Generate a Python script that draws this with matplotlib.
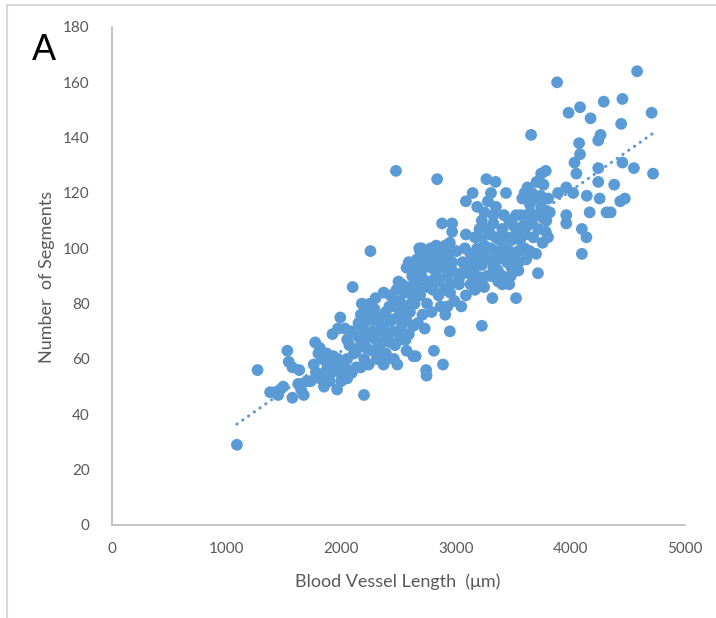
import numpy as np
import matplotlib
matplotlib.use("Agg")
import matplotlib.pyplot as plt
from matplotlib.lines import Line2D

# Blood vessel length (µm) and number of segments per sample
blood_vessel_length = [
    1090, 1270, 1380, 1420, 1450, 1470, 1494, 1530, 1542, 1574, 1634, 1574, 1673, 1625,
    1773, 1813, 1801, 1964, 2199, 1992, 2100, 2255, 2478, 2837, 2880, 2968, 2681, 2829,
    3227, 2888, 2741, 2745, 2809, 2948, 2490, 3088, 3147, 3187, 3267, 3347, 3307, 3438,
    3327, 3227, 3088, 3526, 3319, 3717, 3657, 3884, 3984, 4084, 4176, 4291, 4454, 4582,
    4709, 4443, 4263, 4243, 4076, 4084, 4036, 4052, 4243, 4454, 4554, 4721, 4382, 4243,
    4143, 4255, 4168, 4315, 4351, 4435, 4475, 4100, 4140, 4100, 3964, 3964, 3892, 3964,
    4024, 3785, 3745, 3705, 3626, 3665, 3765, 3805, 3745, 3646, 3614, 3566, 3665, 3785,
    3805, 3757, 3677, 3646, 3614, 3546, 3546, 3446, 3406, 3406, 3367,
    1733, 1813, 1853, 1893, 1833, 1873, 1932, 1972, 1913, 1992, 2052, 2092, 2131, 2171,
    2052, 2111, 2071, 2052, 2092, 2032, 1972, 1924, 2151, 2171, 2211, 2251, 2231, 2271,
    2211, 2171, 2271, 2331, 2311, 2370, 2390, 2430, 2450, 2370, 2331, 2390, 2291, 2370,
    2430, 2482, 2510, 2470, 2530, 2570, 2490, 2530, 2590, 2510, 2470, 2550, 2570, 2650,
    2570, 2590, 2630, 2670, 2709, 2689, 2749, 2789, 2829, 2849, 2769, 2729, 2689, 2749,
    2789, 2709, 2669, 2729, 2630, 2610, 2590, 2650, 2530,
    2829, 2869, 2908, 2948, 2968, 3008, 2968, 2968, 2928, 3028, 3048, 2948, 3028, 2988,
    2928, 2869, 2908, 3048, 3088, 3128, 3108, 3147, 3128, 3187, 3227, 3167, 3227, 3207,
    3287, 3327, 3347, 3386, 3406, 3307, 3287, 3227, 3187, 3207, 3167, 3247, 3307, 3327,
    3367, 3406, 3466, 3486, 3526, 3506, 3466, 3526, 3586, 3606, 3486, 3386, 3466,
    2562, 2630,
    1780, 1850, 1900, 1950, 2000, 2020, 2060, 1880, 1760, 1700, 1650,
    2150, 2190, 2220, 2250, 2280, 2300, 2320, 2350, 2360, 2400, 2410, 2200, 2240, 2260,
    2130, 2180, 2300, 2340, 2400, 2420, 2460, 2440, 2500, 2550, 2600, 2620, 2640, 2560,
    2500, 2480,
    2620, 2660, 2700, 2720, 2760, 2780, 2800, 2850, 2880, 2900, 2940, 2700, 2660, 2800,
    2850, 2900, 2950,
    3060, 3080, 3100, 3150, 3170, 3200, 3250, 3270, 3300, 3350, 3370, 3420, 3450, 3480,
    3500, 3250, 3280, 3350, 3420,
    3560, 3580, 3600, 3620, 3650, 3680, 3700, 3720, 3740, 3760, 3790, 3820, 3700, 3600,
    3550,
]
number_of_segments = [
    29, 56, 48, 48, 47, 49, 50, 63, 59, 57, 56, 46, 47, 51,
    66, 64, 62, 49, 47, 75, 86, 99, 128, 125, 109, 109, 100, 101,
    72, 58, 56, 54, 63, 70, 58, 117, 120, 115, 125, 124, 120, 120,
    112, 110, 105, 82, 82, 91, 141, 160, 149, 151, 147, 153, 154, 164,
    149, 145, 141, 139, 138, 134, 131, 127, 129, 131, 129, 127, 123, 124,
    119, 118, 113, 113, 113, 117, 118, 107, 104, 98, 112, 109, 120, 122,
    120, 128, 127, 124, 122, 120, 123, 118, 115, 116, 112, 112, 109, 106,
    104, 102, 104, 99, 96, 99, 92, 95, 90, 87, 92,
    52, 53, 55, 58, 60, 62, 61, 60, 55, 55, 53, 55, 57, 57,
    60, 62, 65, 67, 70, 71, 71, 69, 73, 76, 78, 80, 74, 70,
    67, 65, 63, 65, 60, 58, 62, 66, 70, 71, 75, 77, 78, 84,
    83, 85, 81, 79, 76, 74, 75, 72, 69, 67, 65, 67, 63, 61,
    93, 95, 93, 92, 96, 99, 98, 93, 90, 88, 88, 86, 83, 80,
    77, 76, 73, 71, 72, 80, 86, 88, 87,
    97, 99, 101, 102, 106, 99, 95, 92, 90, 89, 91, 87, 87, 81,
    79, 79, 76, 79, 83, 87, 91, 96, 98, 100, 98, 104, 104, 107,
    107, 109, 104, 103, 107, 100, 96, 94, 90, 87, 85, 86, 90, 93,
    96, 97, 99, 103, 105, 108, 110, 112, 108, 105, 93, 89, 87,
    67, 61,
    55, 50, 52, 57, 52, 58, 56, 57, 58, 52, 49,
    68, 71, 64, 68, 74, 67, 70, 73, 66, 68, 74, 60, 58, 76,
    63, 80, 82, 62, 60, 79, 60, 74, 70, 79, 77, 83, 80, 84,
    88, 80,
    90, 96, 90, 93, 95, 100, 96, 93, 96, 93, 98, 100, 85, 85,
    83, 85, 84,
    95, 100, 94, 92, 88, 95, 101, 90, 105, 99, 88, 100, 104, 90,
    96, 113, 117, 115, 112,
    103, 118, 100, 108, 113, 118, 112, 107, 119, 111, 110, 113, 98, 120,
    95,
]

x_ticks = [0, 1000, 2000, 3000, 4000, 5000]
y_ticks = [0, 20, 40, 60, 80, 100, 120, 140, 160, 180]

POINT_COLOR = "#5B9BD5"
TEXT_COLOR = "#595959"
AXIS_COLOR = "#BFBFBF"

plt.rcParams["font.family"] = ["Lato", "DejaVu Sans"]

fig = plt.figure(figsize=(7.16, 6.18), dpi=100)
W, H = 716, 618
ax = fig.add_axes([112 / W, (H - 525) / H, 573 / W, 498 / H])

x = np.asarray(blood_vessel_length, dtype=float)
y = np.asarray(number_of_segments, dtype=float)
ax.scatter(x, y, s=72, color=POINT_COLOR, edgecolors="none", zorder=3)

# Linear trend line across the observed length range, drawn as fine round dots
slope, intercept = np.polyfit(x, y, 1)
xt = np.array([x.min(), x.max()])
ax.plot(xt, slope * xt + intercept, linestyle=(0, (0.1, 2.2)), linewidth=2.2,
        color=POINT_COLOR, dash_capstyle="round", zorder=2)

ax.set_xlim(0, 5000)
ax.set_ylim(0, 180)
ax.set_xticks(x_ticks)
ax.set_yticks(y_ticks)
ax.tick_params(length=0, labelsize=11, labelcolor=TEXT_COLOR, pad=12)
ax.tick_params(axis="y", pad=16)
for side in ("top", "right"):
    ax.spines[side].set_visible(False)
for side in ("left", "bottom"):
    ax.spines[side].set_color(AXIS_COLOR)
    ax.spines[side].set_linewidth(1.3)

fig.text(398 / W, 1 - 582 / H, "Blood Vessel Length  (μm)", ha="center", va="center",
         fontsize=13, color=TEXT_COLOR)
fig.text(47 / W, 1 - 277 / H, "Number  of Segments", ha="center", va="center",
         rotation=90, fontsize=13, color=TEXT_COLOR)
fig.text(44 / W, 1 - 50 / H, "A", ha="center", va="center", fontsize=26,
         color="black", family="Liberation Sans")

# Light frame around the panel
fig.add_artist(Line2D([7 / W, 7 / W], [0, 1 - 5 / H], transform=fig.transFigure,
                      color="#D9D9D9", linewidth=1.5))
fig.add_artist(Line2D([7 / W, 1], [1 - 5 / H, 1 - 5 / H], transform=fig.transFigure,
                      color="#D9D9D9", linewidth=1.5))

fig.savefig("out.png", dpi=100, facecolor="white")
